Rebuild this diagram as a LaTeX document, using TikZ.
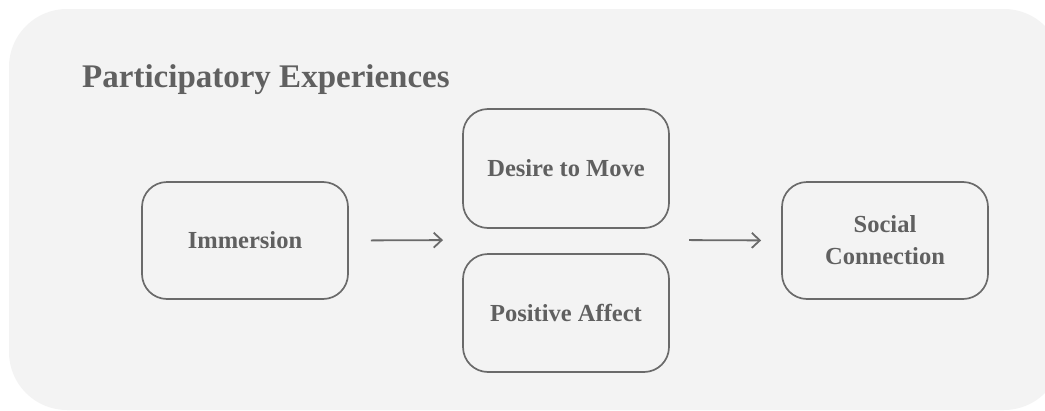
\documentclass[tikz,border=0pt]{standalone}
\usepackage{fontspec}
\setmainfont{Liberation Serif}
\usetikzlibrary{arrows.meta}
\definecolor{bgpanel}{HTML}{F3F3F3}
\definecolor{edge}{HTML}{6A6A6A}
\definecolor{ink}{HTML}{606060}
\tikzset{
  stagebox/.style={draw=edge, line width=1.7pt, rounded corners=25pt, fill=bgpanel,
    minimum width=206pt, minimum height=117pt, align=center, text=ink,
    font=\fontsize{24.5}{32}\selectfont\bfseries, inner sep=0pt},
  flow/.style={draw=edge, line width=1.8pt, -{Straight Barb[length=8pt,width=15pt,line width=1.8pt]}}
}
\begin{document}
\begin{tikzpicture}[x=1pt,y=-1pt]
\useasboundingbox (0,0) rectangle (1045,410);
\fill[white] (0,0) rectangle (1045,410);
\fill[bgpanel] (9,9) [rounded corners=58pt] rectangle (1062,410);
\node[anchor=base west, text=ink, font=\fontsize{33}{40}\selectfont\bfseries, inner sep=0pt] (title) at (82,87) {Participatory Experiences};
\node[stagebox] (imm) at (245,240.5) {Immersion};
\node[stagebox, minimum height=119pt] (des) at (566,168.5) {Desire to Move};
\node[stagebox, minimum height=118pt] (pos) at (566,313) {Positive Affect};
\node[stagebox] (soc) at (885,240.5) {Social\\Connection};
\coordinate (midL) at (462,240);
\coordinate (midR) at (670,240);
\draw[flow, shorten <=22pt, shorten >=19pt] (imm.east) -- (midL);
\draw[flow, shorten <=19pt, shorten >=20pt] (midR) -- (soc.west);
\end{tikzpicture}
\end{document}
